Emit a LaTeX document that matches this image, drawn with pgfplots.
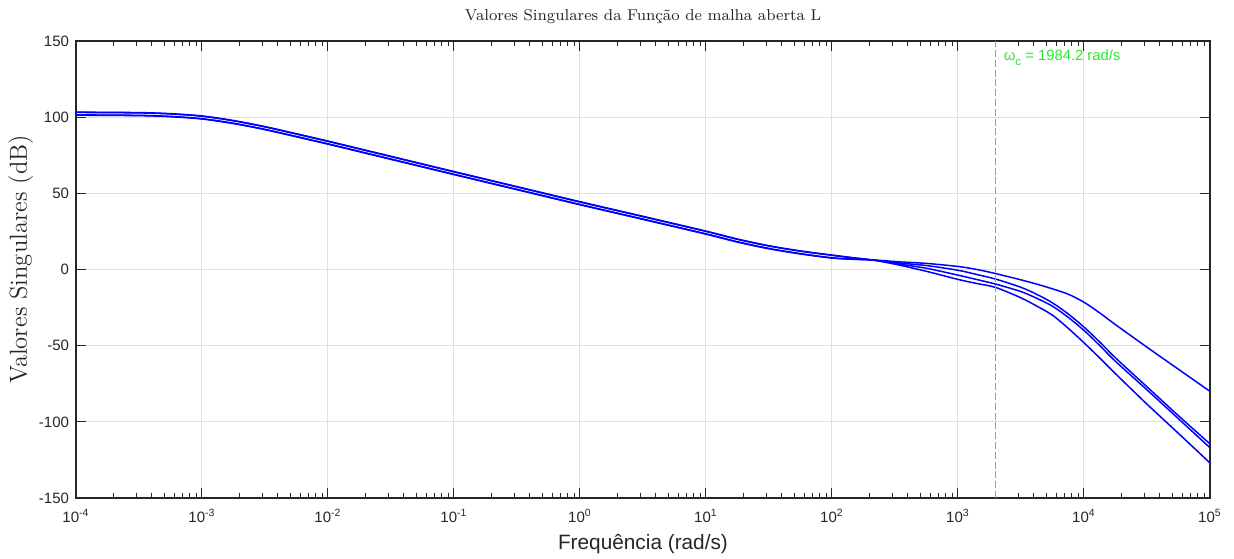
\documentclass[border=0pt]{standalone}
\usepackage{fontspec}
\usepackage{pgfplots}
\usepackage{pgfplotstable}
\pgfplotsset{compat=1.18}
\newfontfamily\helv{Liberation Sans}
\definecolor{axgray}{rgb}{0.15,0.15,0.15}
\definecolor{gridgray}{rgb}{0.88,0.88,0.88}
\definecolor{wctext}{RGB}{40,235,40}

\pgfplotstableread{
w        s1      s2      s3      s4
1e-4     101.3   101.5   103.1   103.3
3.162e-4 101.0   101.2   102.8   103.0
5.623e-4 100.3   100.5   102.1   102.3
1e-3     98.8    99.0    100.6   100.8
1.778e-3 95.8    96.0    97.6    97.8
3.162e-3 91.8    92.0    93.6    93.8
5.623e-3 87.1    87.3    88.9    89.1
1e-2     82.3    82.5    84.1    84.3
3.162e-2 72.3    72.5    74.1    74.3
0.1      62.3    62.5    64.1    64.3
0.3162   52.4    52.6    54.2    54.4
1        42.5    42.7    44.3    44.5
3.162    32.9    33.1    34.7    34.9
10       23.2    23.4    25.0    25.2
17.78    18.0    18.2    19.8    20.0
31.62    13.6    13.8    15.4    15.6
56.23    10.2    10.4    12.0    12.2
100      7.5     7.7     9.3     9.5
147.9    6.7     6.8     7.6     7.7
218.8    6.2     6.1     6.1     6.0
346.7    5.0     4.2     3.5     2.8
562.3    4.0     2.6     0.8     -1.2
1000     2.0     -0.5    -3.7    -6.5
1413     0.0     -3.3    -6.6    -9.2
1995     -2.7    -6.3    -9.6    -11.8
3162     -6.8    -11.7   -14.5   -18.6
4217     -9.6    -16.3   -18.9   -24.0
5623     -12.7   -21.9   -24.1   -30.0
7499     -16.2   -29.2   -31.4   -38.6
10000    -21.5   -37.8   -40.0   -48.1
13335    -28.5   -47.6   -49.9   -58.1
17783    -36.2   -58.0   -60.3   -68.4
31623    -51.0   -77.0   -79.0   -88.4
56234    -65.5   -96.0   -98.0   -107.6
100000   -80.0   -114.5  -117.0  -127.0
}\svdata

\pgfplotstableread{
w       y
1984.2  -150
1984.2  150
}\wcdata

\begin{document}
\begin{tikzpicture}
\begin{axis}[
  at={(0,0)}, anchor=south west,
  width=567pt, height=228.5pt, scale only axis,
  xmode=log, log basis x=10,
  xmin=1e-4, xmax=1e5, ymin=-150, ymax=150,
  xtick={1e-4,1e-3,1e-2,1e-1,1,1e1,1e2,1e3,1e4,1e5},
  xticklabels={10\textsuperscript{-4},10\textsuperscript{-3},10\textsuperscript{-2},10\textsuperscript{-1},10\textsuperscript{0},10\textsuperscript{1},10\textsuperscript{2},10\textsuperscript{3},10\textsuperscript{4},10\textsuperscript{5}},
  minor xtick={2e-4,3e-4,4e-4,5e-4,6e-4,7e-4,8e-4,9e-4,
               2e-3,3e-3,4e-3,5e-3,6e-3,7e-3,8e-3,9e-3,
               2e-2,3e-2,4e-2,5e-2,6e-2,7e-2,8e-2,9e-2,
               0.2,0.3,0.4,0.5,0.6,0.7,0.8,0.9,
               2,3,4,5,6,7,8,9,
               20,30,40,50,60,70,80,90,
               200,300,400,500,600,700,800,900,
               2000,3000,4000,5000,6000,7000,8000,9000,
               20000,30000,40000,50000,60000,70000,80000,90000},
  ytick={-150,-100,-50,0,50,100,150},
  yticklabels={-150,-100,-50,0,50,100,150},
  tick align=inside, xtick pos=both, ytick pos=both,
  major tick length=5pt, minor tick length=2.5pt,
  tick style={axgray, line width=0.5pt},
  axis line style={axgray, line width=0.6pt},
  grid=major,
  major grid style={gridgray, line width=0.5pt},
  xticklabel style={font=\helv\fontsize{7.5}{9}\selectfont, text=axgray, anchor=base, yshift=-12.3pt},
  yticklabel style={font=\helv\fontsize{7.5}{9}\selectfont, text=axgray, anchor=east, inner sep=0pt, xshift=-3.3pt},
  title={Valores Singulares da Função de malha aberta L},
  every axis title/.style={at={(rel axis cs:0.5,1)}, anchor=base, yshift=10.5pt, font=\fontsize{7.9}{10}\selectfont, text=axgray},
  xlabel={Frequência (rad/s)},
  every axis x label/.style={at={(rel axis cs:0.5,0)}, anchor=base, yshift=-25.6pt, font=\helv\fontsize{10.4}{12}\selectfont, text=axgray},
  ylabel={Valores Singulares (dB)},
  every axis y label/.style={at={(rel axis cs:0,0.5)}, xshift=-24.5pt, yshift=5pt, rotate=90, anchor=base, font=\fontsize{12.3}{14}\selectfont, text=axgray},
]
\addplot[blue, line width=0.75pt, smooth] table[x=w, y=s1] {\svdata};
\addplot[blue, line width=0.75pt, smooth] table[x=w, y=s2] {\svdata};
\addplot[blue, line width=0.75pt, smooth] table[x=w, y=s3] {\svdata};
\addplot[blue, line width=0.75pt, smooth] table[x=w, y=s4] {\svdata};
\addplot[color={rgb,255:red,50;green,230;blue,50}, line width=0.7pt, dash pattern=on 3.5pt off 1.4pt] table[x=w, y=y] {\wcdata};
\node[anchor=north west, inner sep=0pt, xshift=4pt, yshift=-4pt, text=wctext, font=\helv\fontsize{7.4}{9}\selectfont] at (axis cs:1984.2,150) {ω\raisebox{-2.8pt}{\fontsize{5.8}{6}\selectfont c} = 1984.2 rad/s};
\end{axis}
\pgfresetboundingbox
\path[use as bounding box] (-38pt,-30pt) rectangle (579pt,249pt);
\end{tikzpicture}
\end{document}
